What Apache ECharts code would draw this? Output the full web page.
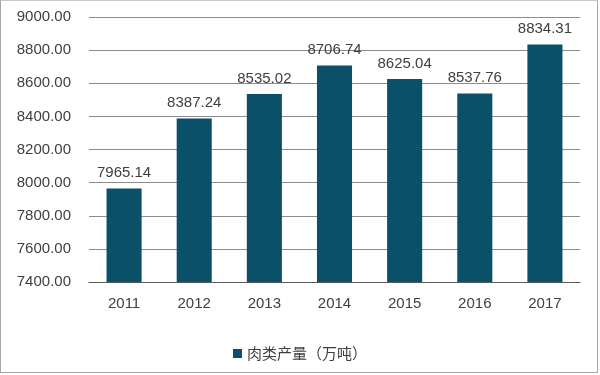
<!DOCTYPE html>
<html><head><meta charset="utf-8">
<script src="https://cdn.jsdelivr.net/npm/echarts@6/dist/echarts.min.js"></script>
<style>html,body{margin:0;padding:0;background:#fff}#c{width:600px;height:375px;}
#frame{position:absolute;left:0;top:0;width:596px;height:371px;border:1px solid #a6a6a6;border-top-color:#c8c8c8;pointer-events:none}</style>
</head><body><div id="c"></div><div id="frame"></div>
<script>
var categories = ['2011','2012','2013','2014','2015','2016','2017'];
var values = [7965.14, 8387.24, 8535.02, 8706.74, 8625.04, 8537.76, 8834.31];
var seriesName = '肉类产量（万吨）';
var chart = echarts.init(document.getElementById('c'));
var font = 'Liberation Sans, Arial, sans-serif';
chart.setOption({
  animation: false,
  textStyle: {fontFamily: font},
  grid: {left: 89, right: 20, top: 17, bottom: 93, containLabel: false},
  xAxis: {
    type: 'category', data: categories,
    axisLine: {lineStyle: {color: '#595959', width: 1}},
    axisTick: {show: false},
    axisLabel: {color: '#404040', fontSize: 15, margin: 14, fontFamily: font}
  },
  yAxis: {
    type: 'value', min: 7400, max: 9000, interval: 200,
    axisLine: {show: false}, axisTick: {show: false},
    splitLine: {lineStyle: {color: '#8c8c8c', width: 1}},
    axisLabel: {color: '#404040', fontSize: 15, margin: 18, fontFamily: font,
      formatter: function (v) { return v.toFixed(2); }}
  },
  legend: {
    bottom: 9, left: 'center', itemWidth: 9, itemHeight: 9, itemGap: 6,
    icon: 'rect',
    textStyle: {color: '#404040', fontSize: 15, fontFamily: 'Noto Sans CJK SC, sans-serif'},
    data: [seriesName]
  },
  series: [{
    name: seriesName, type: 'bar', data: values, barWidth: '50%',
    itemStyle: {color: '#0b5069'},
    label: {show: true, position: 'top', distance: 8, color: '#404040', fontSize: 15, fontFamily: font,
      formatter: function (p) { return p.value.toFixed(2); }}
  }]
});
</script></body></html>
